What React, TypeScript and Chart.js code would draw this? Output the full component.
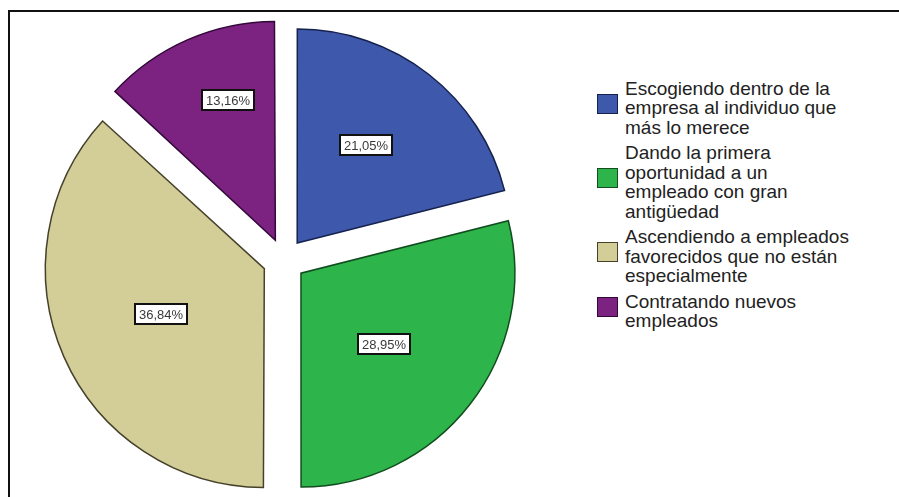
import React, { useEffect, useRef } from "react";
import { Chart, registerables } from "chart.js";

Chart.register(...registerables);

const categoryLines: string[][] = [
  ["Escogiendo dentro de la", "empresa al individuo que", "más lo merece"],
  ["Dando la primera", "oportunidad a un", "empleado con gran", "antigüedad"],
  ["Ascendiendo a empleados", "favorecidos que no están", "especialmente"],
  ["Contratando nuevos", "empleados"],
];
const categories = categoryLines.map((l) => l.join(" "));
const percentages = [21.05, 28.95, 36.84, 13.16];
const percentLabels = ["21,05%", "28,95%", "36,84%", "13,16%"];
const sliceColors = ["#3E58AC", "#2DB54B", "#D3CE98", "#7C2382"];
const sliceBorders = ["#16224d", "#114d1e", "#45412a", "#33093a"];
const labelRadii = [0.563, 0.512, 0.53, 0.695];
const labelAngleShiftDeg = [-2.8, 2.7, 0.3, 5.2];

const FONT = "'Liberation Sans', Arial, sans-serif";
const SLICE_OFFSET = 86;

const boxLabelPlugin = {
  id: "boxLabels",
  afterDatasetsDraw(chart: any) {
    const ctx = chart.ctx as CanvasRenderingContext2D;
    const meta = chart.getDatasetMeta(0);
    const shift = SLICE_OFFSET / 4;
    meta.data.forEach((arc: any, i: number) => {
      const p = arc.getProps(["x", "y", "startAngle", "endAngle", "outerRadius"], true);
      const mid = (p.startAngle + p.endAngle) / 2;
      const ax = p.x + Math.cos(mid) * shift;
      const ay = p.y + Math.sin(mid) * shift;
      const ang = mid + (labelAngleShiftDeg[i] * Math.PI) / 180;
      const d = labelRadii[i] * p.outerRadius;
      const px = ax + Math.cos(ang) * d;
      const py = ay + Math.sin(ang) * d;
      const text = percentLabels[i];
      ctx.save();
      ctx.font = "13px " + FONT;
      const w = Math.round(ctx.measureText(text).width + 8);
      const h = 20;
      const bx = Math.round(px - w / 2);
      const by = Math.round(py - h / 2);
      ctx.fillStyle = "#ffffff";
      ctx.fillRect(bx, by, w, h);
      ctx.lineWidth = 2;
      ctx.strokeStyle = "#111111";
      ctx.strokeRect(bx, by, w, h);
      ctx.fillStyle = "#3a3a3a";
      ctx.textAlign = "center";
      ctx.textBaseline = "middle";
      ctx.fillText(text, bx + w / 2, by + h / 2 + 1);
      ctx.restore();
    });
  },
};

export default function App() {
  const canvasRef = useRef<HTMLCanvasElement | null>(null);

  useEffect(() => {
    const canvas = canvasRef.current;
    if (!canvas) return;
    const chart = new Chart(canvas, {
      type: "pie",
      data: {
        labels: categories,
        datasets: [
          {
            data: percentages,
            backgroundColor: sliceColors,
            borderColor: sliceBorders,
            borderWidth: 1.5,
            offset: SLICE_OFFSET,
            borderJoinStyle: "miter",
          } as any,
        ],
      },
      options: {
        responsive: false,
        animation: false,
        layout: { padding: 0 },
        plugins: {
          legend: { display: false },
          tooltip: { enabled: false },
        },
      },
      plugins: [boxLabelPlugin],
    });
    return () => chart.destroy();
  }, []);

  return (
    <div
      style={{
        position: "absolute",
        left: 0,
        top: 0,
        width: 899,
        height: 497,
        overflow: "hidden",
        background: "#ffffff",
        fontFamily: FONT,
      }}
    >
      <div
        style={{
          position: "absolute",
          left: 8,
          top: 10,
          width: 1000,
          height: 600,
          borderTop: "2px solid #111",
          borderLeft: "2px solid #111",
        }}
      />
      <canvas
        ref={canvasRef}
        width={514}
        height={514}
        style={{ position: "absolute", left: 27, top: 3, width: 514, height: 514 }}
      />
      <div style={{ position: "absolute", left: 597, top: 78.6, width: 295 }}>
        {categoryLines.map((lines, i) => (
          <div
            key={i}
            style={{ display: "flex", alignItems: "center", marginBottom: 6 }}
          >
            <div
              style={{
                width: 21,
                height: 20,
                background: sliceColors[i],
                border: "1px solid " + sliceBorders[i],
                boxSizing: "border-box",
                marginRight: 7,
                flex: "0 0 auto",
                position: "relative",
                top: -4,
              }}
            />
            <div style={{ fontSize: 19, lineHeight: "19.5px", color: "#222" }}>
              {lines.map((ln, j) => (
                <div key={j} style={{ whiteSpace: "nowrap" }}>
                  {ln}
                </div>
              ))}
            </div>
          </div>
        ))}
      </div>
    </div>
  );
}
